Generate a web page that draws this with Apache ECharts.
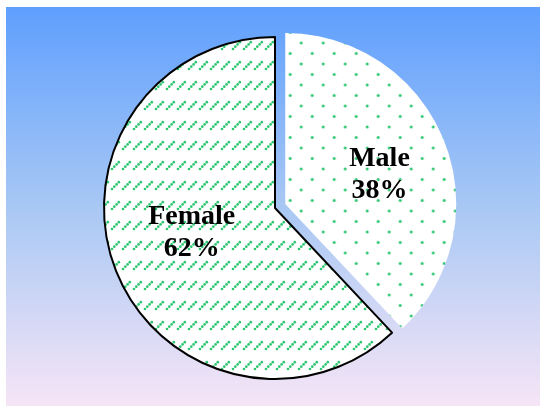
<!DOCTYPE html>
<html>
<head>
<meta charset="utf-8">
<script src="https://cdn.jsdelivr.net/npm/echarts@6/dist/echarts.min.js"></script>
<style>
  html, body { margin: 0; padding: 0; background: #ffffff; }
  #chart { width: 540px; height: 406px; }
</style>
</head>
<body>
<div id="chart"></div>
<script>
// Gender split
const categories = ['Male', 'Female'];
const shares = [38, 62];

const DOT_GREEN = 'rgba(35, 195, 105, 0.95)';

// Staggered dot fill
function dotPattern() {
  const c = document.createElement('canvas');
  c.width = 22; c.height = 21;
  const g = c.getContext('2d');
  g.fillStyle = '#ffffff';
  g.fillRect(0, 0, c.width, c.height);
  g.fillStyle = DOT_GREEN;
  [[5, 5], [16, 15.5]].forEach(([x, y]) => {
    g.beginPath(); g.arc(x, y, 1.5, 0, Math.PI * 2); g.fill();
  });
  return c;
}

// Rows of short dotted diagonal dashes
function dashPattern() {
  const c = document.createElement('canvas');
  c.width = 11; c.height = 20;
  const g = c.getContext('2d');
  g.fillStyle = '#ffffff';
  g.fillRect(0, 0, c.width, c.height);
  g.fillStyle = DOT_GREEN;
  [[2, 9], [4.3, 6.7], [6.6, 4.4], [8.8, 2.2]].forEach(([x, y]) => {
    g.beginPath(); g.arc(x, y, 1.35, 0, Math.PI * 2); g.fill();
  });
  return c;
}

const fills = {
  Male: { image: dotPattern(), repeat: 'repeat' },
  Female: { image: dashPattern(), repeat: 'repeat' }
};
const borders = {
  Male: { borderWidth: 0 },
  Female: { borderColor: '#000000', borderWidth: 2 }
};
const labelShift = {
  Male: [12, 3],
  Female: [-1, -8]
};

const pieData = categories.map((name, i) => {
  const style = Object.assign({ color: fills[name] }, borders[name]);
  return {
    name: name,
    value: shares[i],
    selected: name === 'Male',
    itemStyle: style,
    select: { itemStyle: style },
    emphasis: { itemStyle: style }
  };
});

const chart = echarts.init(document.getElementById('chart'), null, { renderer: 'canvas' });
chart.setOption({
  animation: false,
  graphic: [{
    type: 'rect',
    z: -10,
    shape: { x: 6, y: 7, width: 534, height: 399 },
    style: {
      fill: new echarts.graphic.LinearGradient(0, 0, 0, 1, [
        { offset: 0, color: '#5f9ffe' },
        { offset: 0.5, color: '#a8c8f4' },
        { offset: 1, color: '#f6e5f6' }
      ])
    },
    silent: true
  }],
  series: [{
    type: 'pie',
    center: [275, 208],
    radius: 171,
    startAngle: 90,
    clockwise: true,
    selectedMode: 'single',
    selectedOffset: 11,
    avoidLabelOverlap: false,
    label: {
      show: true,
      position: 'inside',
      formatter: p => p.name + '\n' + p.value + '%',
      fontFamily: '"Liberation Serif", "Times New Roman", serif',
      fontWeight: 'bold',
      fontSize: 28,
      lineHeight: 32,
      color: '#000000',
      align: 'center'
    },
    labelLine: { show: false },
    labelLayout: params => {
      const s = labelShift[categories[params.dataIndex]];
      return { dx: s[0], dy: s[1] };
    },
    emphasis: { scale: false },
    data: pieData
  }]
});
</script>
</body>
</html>
